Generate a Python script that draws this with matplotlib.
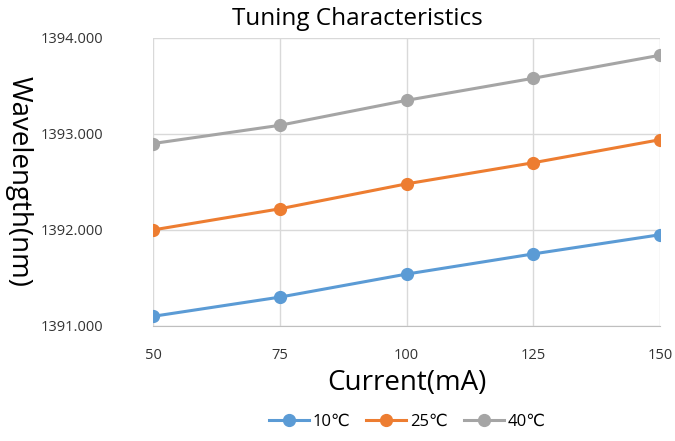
import matplotlib
matplotlib.use("Agg")
import matplotlib.pyplot as plt

plt.rcParams['font.family'] = ['Open Sans', 'DejaVu Sans']

current = [50, 75, 100, 125, 150]
wl_10 = [1391.10, 1391.30, 1391.54, 1391.75, 1391.95]
wl_25 = [1392.00, 1392.22, 1392.48, 1392.70, 1392.94]
wl_40 = [1392.90, 1393.09, 1393.35, 1393.58, 1393.82]
labels = ['10\u2103', '25\u2103', '40\u2103']
colors = ['#5B9BD5', '#ED7D31', '#A5A5A5']

fig = plt.figure(figsize=(6.75, 4.41), dpi=100)
ax = fig.add_axes([0.227, 0.261, 0.751, 0.653])

for ys, lab, c in zip([wl_10, wl_25, wl_40], labels, colors):
    ax.plot(current, ys, color=c, linewidth=2.2, marker='o', markersize=8.5, label=lab)

ax.set_xlim(50, 150)
ax.set_ylim(1391, 1394)
ax.set_xticks(current)
ax.set_yticks([1391, 1392, 1393, 1394])
ax.set_yticklabels(['%.3f' % v for v in [1391, 1392, 1393, 1394]])
ax.grid(True, color='#D9D9D9', linewidth=1)
ax.set_axisbelow(True)
for s in ['top', 'right', 'left']:
    ax.spines[s].set_visible(False)
ax.spines['bottom'].set_color('#BFBFBF')
ax.tick_params(length=0, labelsize=10.5, colors='#333333')
ax.tick_params(axis='x', pad=16)
ax.tick_params(axis='y', pad=36)

fig.text(0.53, 0.958, 'Tuning Characteristics', fontsize=17.5, ha='center', va='center')
ax.set_xlabel('Current(mA)', fontsize=20, labelpad=4)
ax.set_ylabel('Wavelength(nm)', fontsize=20, rotation=270, va='center')
ax.yaxis.set_label_coords(-0.266, 0.5)

fig.legend(loc='center', bbox_to_anchor=(0.603, 0.043), ncol=3, frameon=False,
           fontsize=12, handlelength=2.4, columnspacing=1.0, handletextpad=0.2)

fig.savefig('out.png', dpi=100)
